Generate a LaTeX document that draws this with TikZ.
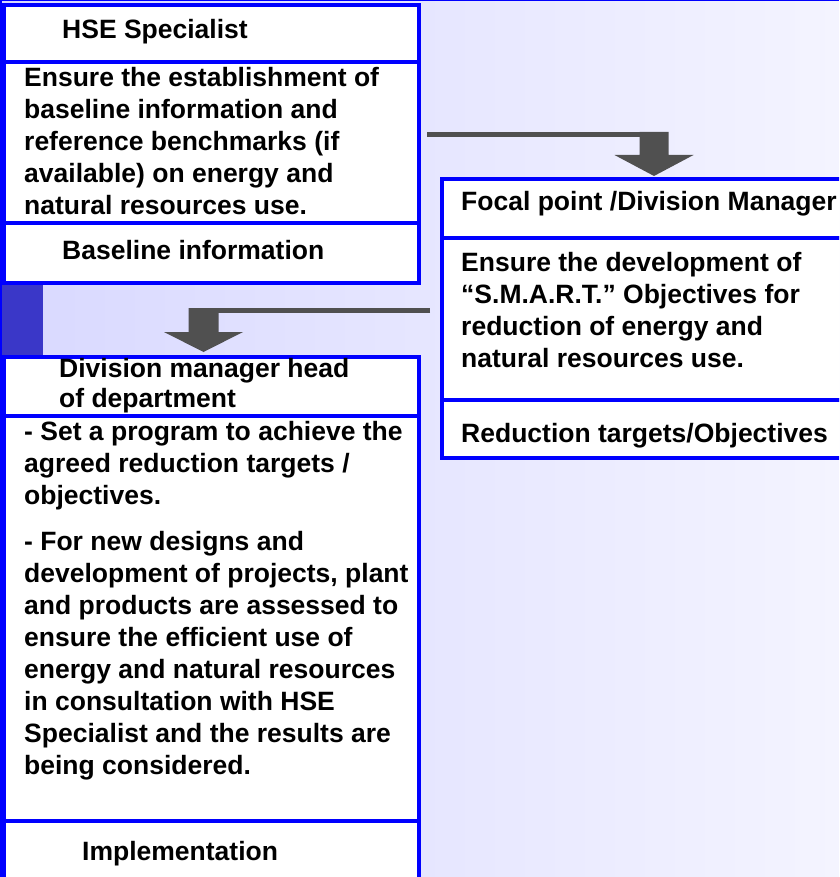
\documentclass[tikz,border=0pt]{standalone}
\usepackage{fontspec}
\setmainfont{Liberation Sans}
\usetikzlibrary{calc,positioning}
\definecolor{boxblue}{RGB}{0,0,255}
\definecolor{arrowgray}{RGB}{80,80,80}
\definecolor{bgleft}{RGB}{216,216,255}
\definecolor{bgright}{RGB}{244,244,255}
\definecolor{barblue}{RGB}{58,55,200}
\tikzset{
  box/.style={draw=boxblue, line width=4pt, fill=white, inner sep=0pt, outer sep=0pt},
  leftbox/.style={box, minimum width=415pt},
  rightbox/.style={box, minimum width=424pt},
  txt/.style={anchor=north west, inner sep=0pt, align=left,
    font=\fontsize{26.5}{32}\selectfont\bfseries, execute at begin node={\strut}},
  bar/.style={draw=arrowgray, line width=5pt},
  blockhead/.style={fill=arrowgray},
}
\begin{document}
\begin{tikzpicture}[x=1pt,y=-1pt]
\useasboundingbox (0,0) rectangle (839,877);
\clip (0,0) rectangle (839,877);
\shade[left color=bgleft, right color=bgright] (0,0) rectangle (839,877);
\fill[barblue] (0,283) rectangle (43,356);
\fill[boxblue] (0,0) rectangle (2,877);
\fill[boxblue] (0,0) rectangle (839,1.5);

% left column, top
\node[leftbox, minimum height=57pt, anchor=north west] (hseHead) at (4,5) {};
\node[leftbox, minimum height=161pt, below=0pt of hseHead] (hseBody) {};
\node[leftbox, minimum height=60pt, below=0pt of hseBody] (hseOut) {};

% left column, bottom
\node[leftbox, minimum height=59pt, anchor=north west] (divHead) at (4,357) {};
\node[leftbox, minimum height=405pt, below=0pt of divHead] (divBody) {};
\node[leftbox, minimum height=79pt, below=0pt of divBody] (divOut) {};

% right column
\node[rightbox, minimum height=59pt, anchor=north west] (focHead) at (442,179) {};
\node[rightbox, minimum height=162pt, below=0pt of focHead] (focBody) {};
\node[rightbox, minimum height=58pt, below=0pt of focBody] (focOut) {};

% texts
\node[txt] (hseHeadTxt) at ($(hseHead.north west)+(58,10.6)$) {HSE Specialist};
\node[txt] (hseBodyTxt) at ($(hseBody.north west)+(20,4.6)$)
  {Ensure the establishment of\\baseline information and\\reference benchmarks (if\\available) on energy and\\natural resources use.};
\node[txt] (hseOutTxt) at ($(hseOut.north west)+(58,13.6)$) {Baseline information};

\node[txt] (divHeadTxt) at ($(divHead.north west)+(55,0.6)$) {Division manager head\\[-2pt]of department};
\node[txt] (divBodyTxt) at ($(divBody.north west)+(20,4.6)$)
  {- Set a program to achieve the\\agreed reduction targets /\\objectives.\\[14pt]- For new designs and\\development of projects, plant\\and products are assessed to\\ensure the efficient use of\\energy and natural resources\\in consultation with HSE\\Specialist and the results are\\being considered.};
\node[txt] (divOutTxt) at ($(divOut.north west)+(78,16.6)$) {Implementation};

\node[txt] (focHeadTxt) at ($(focHead.north west)+(19,8.6)$) {Focal point /Division Manager};
\node[txt] (focBodyTxt) at ($(focBody.north west)+(19,13.6)$)
  {Ensure the development of\\“S.M.A.R.T.” Objectives for\\reduction of energy and\\natural resources use.};
\node[txt] (focOutTxt) at ($(focOut.north west)+(19,19.6)$) {Reduction targets/Objectives};

% block arrows
\coordinate (a1from) at ($(hseBody.east)+(8,-8)$);
\coordinate (a1tip) at ($(focHead.north)+(0,-3)$);
\draw[bar] (a1from) -- (a1from -| a1tip);
\fill[blockhead] (a1tip) -- ++(-39.5,-21) -- ++(25,0) -- ++(0,-23) -- ++(29,0)
  -- ++(0,23) -- ++(25,0) -- cycle;

\coordinate (a2from) at ($(focBody.west)+(-12,-8.5)$);
\coordinate (a2tip) at ($(divHead.north)+(-8,-5)$);
\draw[bar] (a2from) -- (a2from -| a2tip);
\fill[blockhead] (a2tip) -- ++(-39.5,-20) -- ++(24.5,0) -- ++(0,-24) -- ++(30,0)
  -- ++(0,24) -- ++(24.5,0) -- cycle;
\end{tikzpicture}
\end{document}
